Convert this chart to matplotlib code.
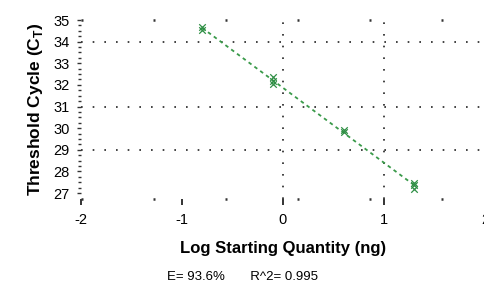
import numpy as np
import matplotlib.pyplot as plt
from matplotlib import font_manager

names = {f.name for f in font_manager.fontManager.ttflist}
narrow = 'Liberation Sans Narrow' if 'Liberation Sans Narrow' in names else 'Liberation Sans'
plt.rcParams['font.family'] = [narrow, 'DejaVu Sans']
plt.rcParams['axes.unicode_minus'] = False

# standard curve replicates (log ng, Ct)
log_qty = np.array([-0.8, -0.8, -0.1, -0.1, -0.1, 0.6, 0.6, 1.3, 1.3, 1.3])
ct = np.array([34.55, 34.7, 32.05, 32.2, 32.35, 29.8, 29.9, 27.2, 27.35, 27.45])
eff_text = 'E= 93.6%'
r2_text = 'R^2= 0.995'

slope, intercept = np.polyfit(log_qty, ct, 1)
xfit = np.array([log_qty.min(), log_qty.max()])

fig = plt.figure(figsize=(4.85, 2.86), dpi=100)
ax = fig.add_axes([0.167, 0.304, 0.833, 0.626])

dot = (0, (1, 6))
for yv in [34, 31, 29]:
    ax.axhline(yv, color='#222222', lw=1.2, ls=dot, zorder=1)
for xv in [0, 1]:
    ax.axvline(xv, color='#222222', lw=1.2, ls=dot, zorder=1)

ax.plot(xfit, slope * xfit + intercept, color='#3a9a4a', lw=1.3, ls=(0, (2, 2)), zorder=2)
ax.scatter(log_qty, ct, marker='x', color='#2f8f45', s=22, lw=0.9, zorder=3)

ax.set_xlim(-2, 2)
ax.set_ylim(26.72, 35.0)
ax.set_xticks([-2, -1, 0, 1, 2])
ax.set_yticks(range(27, 36))
ax.set_yticks(np.arange(27, 35.01, 0.25), minor=True)
for s in ['left', 'right']:
    ax.spines[s].set_visible(False)
for s in ['top', 'bottom']:
    ax.spines[s].set_linestyle((0, (0.8, 28)))
    ax.spines[s].set_linewidth(1.8)
    ax.spines[s].set_capstyle('butt')
    ax.spines[s].set_color('#333333')
ax.tick_params(axis='x', length=4, width=1.4, color='#333333', labelsize=10.5, pad=6)
ax.tick_params(axis='y', which='both', length=3, width=1.0, color='#333333', labelsize=10.5, pad=5)
ax.tick_params(axis='y', which='minor', length=2)

ax.set_xlabel('Log Starting Quantity (ng)', fontsize=12, fontweight='bold', labelpad=10)
ax.set_ylabel('Threshold Cycle (C$_\\mathregular{T}$)', fontsize=12.5, fontweight='bold', labelpad=6)
fig.text(0.5, 0.02, eff_text + '       ' + r2_text, ha='center', fontsize=9.5)

fig.savefig('out.png', dpi=100)
